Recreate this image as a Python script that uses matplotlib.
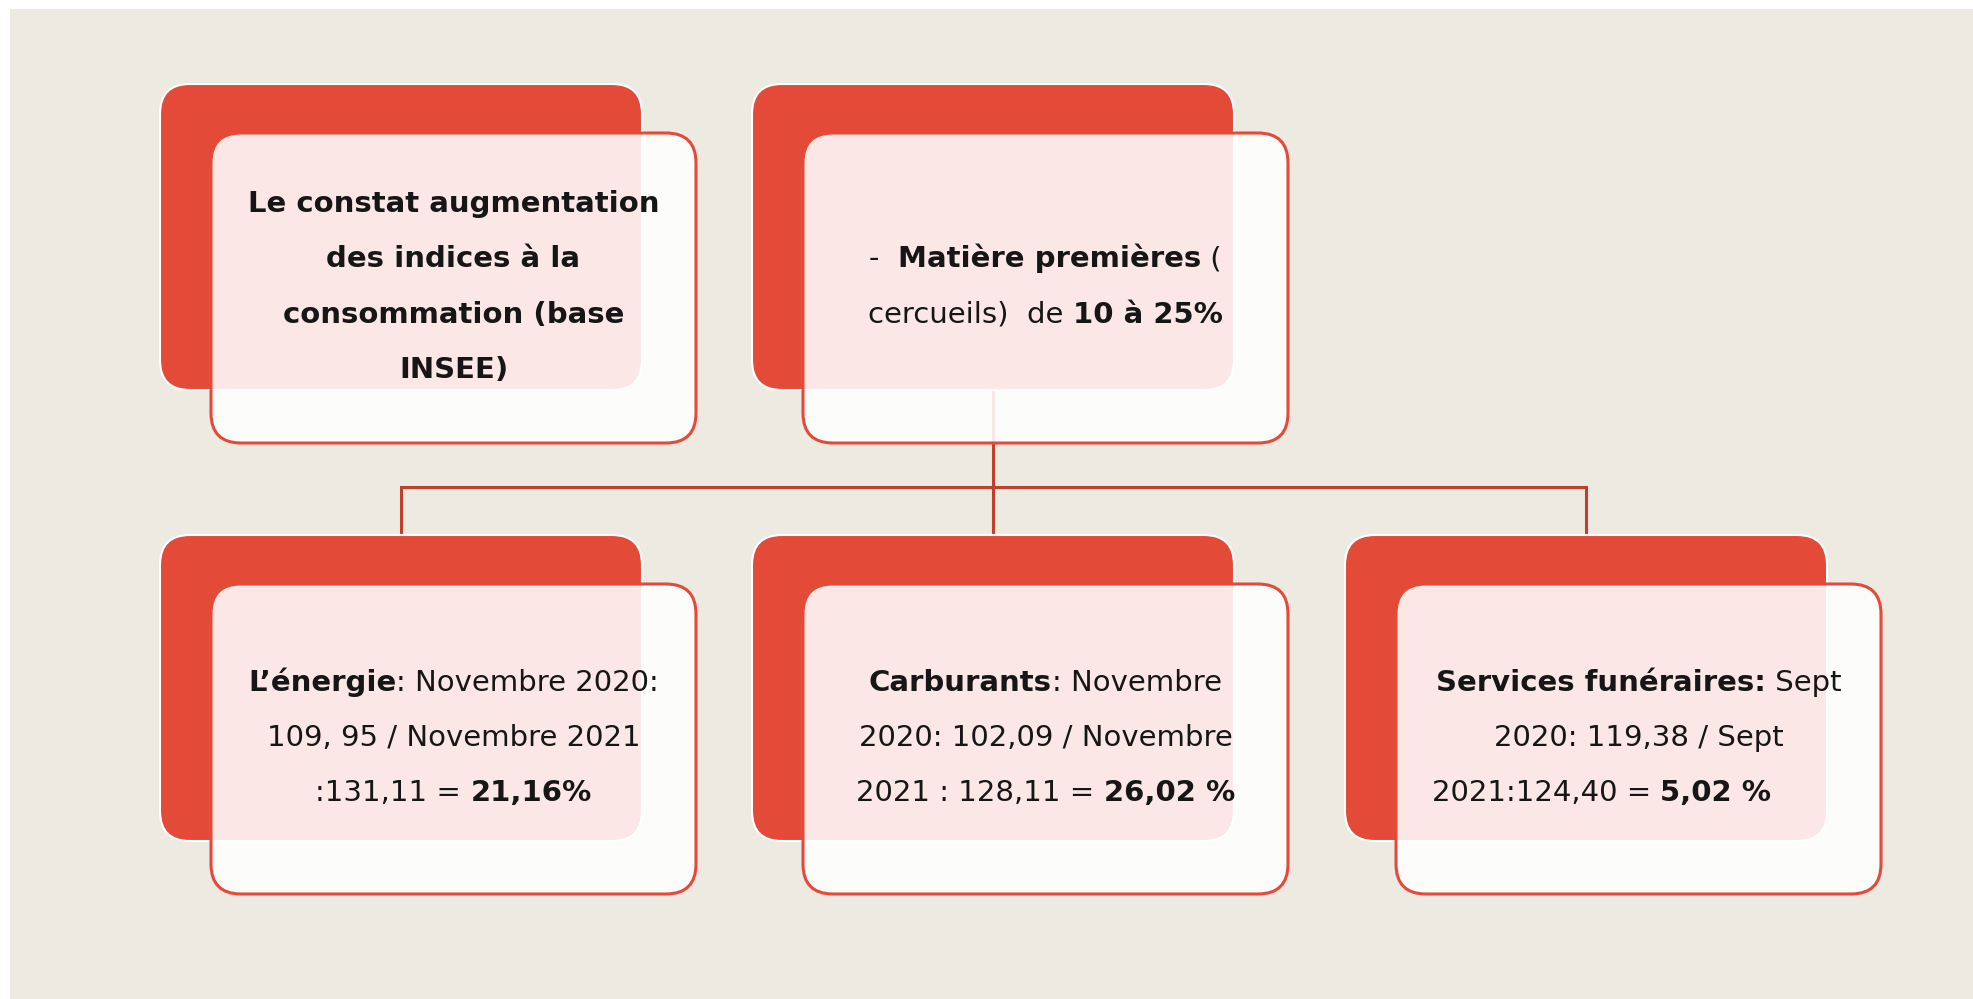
import matplotlib
matplotlib.use("Agg")
import matplotlib.pyplot as plt
from matplotlib.patches import FancyBboxPatch, Rectangle

# box contents: one list of lines per box, each line is (text, bold) segments
top_texts = [
    [[("Le constat augmentation", True)],
     [("des indices à la", True)],
     [("consommation (base", True)],
     [("INSEE)", True)]],
    [[("-  ", False), ("Matière premières", True), (" (", False)],
     [("cercueils)  de ", False), ("10 à 25%", True)]],
]
bottom_texts = [
    [[("L’énergie", True), (": Novembre 2020:", False)],
     [("109, 95 / Novembre 2021", False)],
     [(":131,11 = ", False), ("21,16%", True)]],
    [[("Carburants", True), (": Novembre", False)],
     [("2020: 102,09 / Novembre", False)],
     [("2021 : 128,11 = ", False), ("26,02 %", True)]],
    [[("Services funéraires:", True), (" Sept", False)],
     [("2020: 119,38 / Sept", False)],
     [("2021:124,40 = ", False), ("5,02 %", True), ("        ", False)]],
]

# colours
bg = "#EDEAE2"
red = "#E34A38"
line_red = "#C0402E"
txt = "#161616"

# layout (pixels)
W, H = 1974, 999
col_x = [160, 752, 1345]
top_y, bot_y = 84, 535
bw, bh = 482, 306
off_x, off_y = 51, 49
fw, fh = 485, 310
rad = 30
fs = 21
line_h = 55.4

fig = plt.figure(figsize=(W / 100, H / 100), dpi=100)
fig.patch.set_facecolor("white")
ax = fig.add_axes([0, 0, 1, 1])
ax.set_xlim(0, W)
ax.set_ylim(H, 0)
ax.axis("off")

ax.add_patch(Rectangle((10, 9), W - 10, H - 9, facecolor=bg, edgecolor="none", zorder=0))

# connectors
hy = 487
cx = [x + bw / 2 for x in col_x]
ax.plot([cx[0], cx[2]], [hy, hy], color=line_red, lw=2.2, zorder=1, solid_capstyle="butt")
ax.plot([cx[1], cx[1]], [top_y + bh, bot_y], color=line_red, lw=2.2, zorder=1)
for x in cx:
    ax.plot([x, x], [hy, bot_y], color=line_red, lw=2.2, zorder=1)

renderer = fig.canvas.get_renderer()


def seg_width(s, bold):
    # advance width including spaces: measure with sentinels
    def w(t):
        tt = ax.text(0, 0, t, fontsize=fs, family="DejaVu Sans",
                     fontweight="bold" if bold else "normal")
        e = tt.get_window_extent(renderer).width
        tt.remove()
        return e
    return w("." + s + ".") - w("..")


def draw_box(x, y, lines):
    ax.add_patch(FancyBboxPatch((x, y), bw, bh,
                                boxstyle=f"round,pad=0,rounding_size={rad}",
                                facecolor=red, edgecolor="white", lw=1.5, zorder=2))
    fx, fy = x + off_x, y + off_y
    ax.add_patch(FancyBboxPatch((fx, fy), fw, fh,
                                boxstyle=f"round,pad=0,rounding_size={rad}",
                                facecolor=(1, 1, 1, 0.88), edgecolor=red, lw=2.2, zorder=3))
    cxb = fx + fw / 2
    cyb = fy + fh / 2 - 3.5
    n = len(lines)
    em = fs * 100 / 72
    for i, line in enumerate(lines):
        yc = cyb + (i - (n - 1) / 2) * line_h
        base = yc + 0.36 * em
        widths = [seg_width(s, b) for s, b in line]
        xs = cxb - sum(widths) / 2
        for (s, b), wd in zip(line, widths):
            ax.text(xs, base, s, fontsize=fs, family="DejaVu Sans",
                    fontweight="bold" if b else "normal", color=txt,
                    ha="left", va="baseline", zorder=4)
            xs += wd


for x, lines in zip(col_x, top_texts):
    draw_box(x, top_y, lines)
for x, lines in zip(col_x, bottom_texts):
    draw_box(x, bot_y, lines)

fig.savefig("out.png", dpi=100, facecolor=fig.get_facecolor())
